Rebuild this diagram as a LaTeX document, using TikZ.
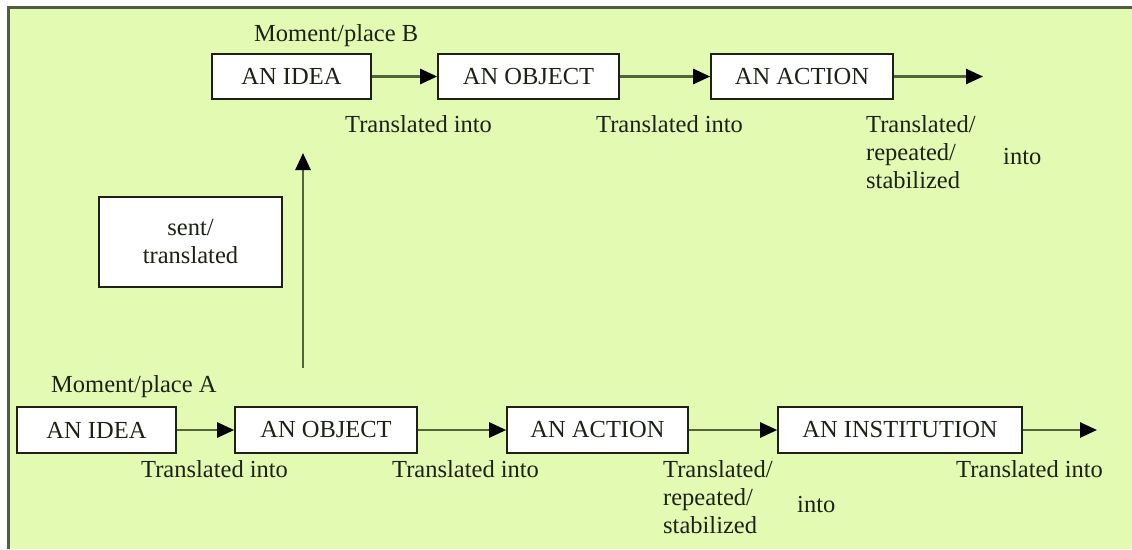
\documentclass[tikz,border=0pt]{standalone}
\usepackage{fontspec}
\setmainfont{Liberation Serif}
\usetikzlibrary{arrows.meta}
\definecolor{bggreen}{RGB}{227,250,178}
\definecolor{framegray}{RGB}{80,92,68}
\definecolor{linegreen}{RGB}{84,100,58}
\definecolor{inkdark}{RGB}{28,34,22}
\begin{document}
\begin{tikzpicture}[x=1pt, y=-1pt, >={Triangle[length=17pt,width=15pt,color=black]},
    font=\fontsize{24.5}{28}\selectfont, text=inkdark,
    box/.style={draw=inkdark, line width=1.6pt, fill=white, minimum height=45pt, inner sep=0pt},
    lbl/.style={anchor=base west, inner sep=0pt},
    lbls/.style={anchor=north west, inner sep=0pt, align=left},
    link/.style={->, draw=linegreen, line width=2.6pt}]
\useasboundingbox (0,0) rectangle (1132,549);
\fill[white] (0,0) rectangle (1132,549);
\fill[bggreen] (8,7) rectangle (1132,549);
\draw[framegray, line width=3pt] (8,549) -- (8,7) -- (1132,7);
% moment/place B
\node[lbl] (momB) at (254,41) {Moment/place B};
\node[box, minimum width=159pt] (ideaB) at (291.5,76.5) {AN IDEA};
\node[box, minimum width=181pt] (objB) at (528.5,76.5) {AN OBJECT};
\node[box, minimum width=182pt] (actB) at (802,76.5) {AN ACTION};
\coordinate (endB) at (983,76.5);
\draw[link] (ideaB) -- (objB);
\draw[link] (objB) -- (actB);
\draw[link] (actB) -- (endB);
\node[lbl] (trB1) at (345,132) {Translated into};
\node[lbl] (trB2) at (596,132) {Translated into};
\node[lbls] (trB3) at (866,115) {Translated/\\repeated/\\stabilized};
\node[lbl] (intoB) at (1003,164) {into};
% sent between the two
\node[box, minimum width=183pt, minimum height=90pt, align=center] (sent) at (190.5,242) {sent/\\translated};
\coordinate (upfoot) at (303,368);
\coordinate (uphead) at (303,153);
\draw[link] (upfoot) -- (uphead);
% moment/place A
\node[lbl] (momA) at (51,392) {Moment/place A};
\node[box, minimum width=159pt, minimum height=46pt] (ideaA) at (96.5,430) {AN IDEA};
\node[box, minimum width=182pt, minimum height=46pt] (objA) at (326,430) {AN OBJECT};
\node[box, minimum width=181pt, minimum height=46pt] (actA) at (597.5,430) {AN ACTION};
\node[box, minimum width=244pt, minimum height=46pt] (instA) at (900,430) {AN INSTITUTION};
\coordinate (endA) at (1097,430);
\draw[link] (ideaA) -- (objA);
\draw[link] (objA) -- (actA);
\draw[link] (actA) -- (instA);
\draw[link] (instA) -- (endA);
\node[lbl] (trA1) at (141,477) {Translated into};
\node[lbl] (trA2) at (392,477) {Translated into};
\node[lbls] (trA3) at (663,460) {Translated/\\repeated/\\stabilized};
\node[lbl] (intoA) at (797,512) {into};
\node[lbl] (trA4) at (956,477) {Translated into};
\end{tikzpicture}
\end{document}
